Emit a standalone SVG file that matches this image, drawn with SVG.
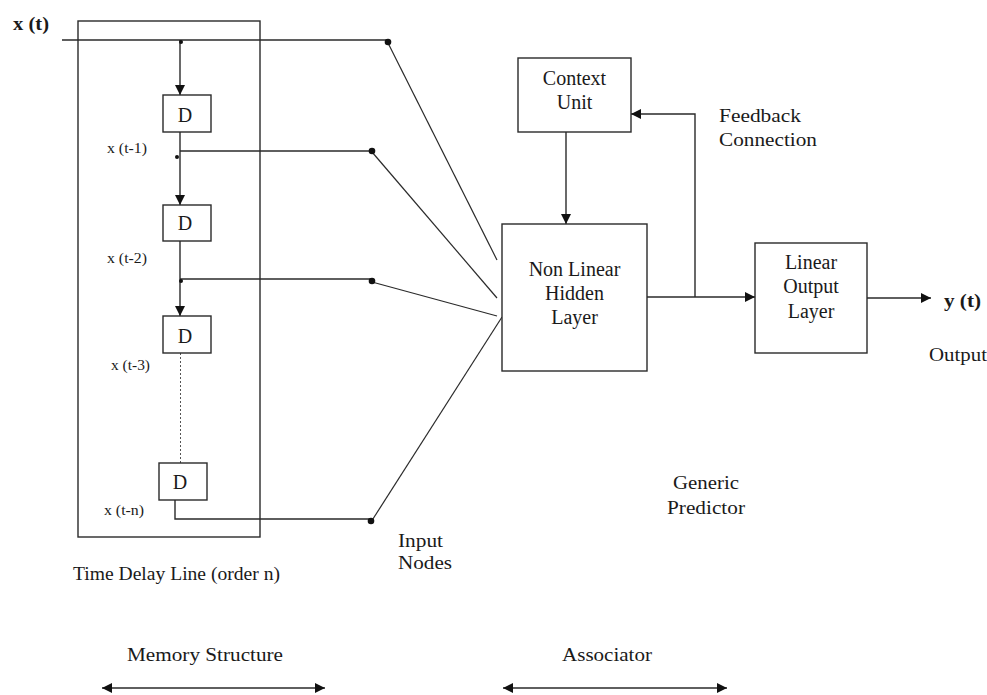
<svg xmlns="http://www.w3.org/2000/svg" width="987" height="695" viewBox="0 0 987 695">
<defs>
<style>
.box{fill:#fff;stroke:#2a2a2a;stroke-width:1.4}
.ln{fill:none;stroke:#2a2a2a;stroke-width:1.4}
.thin{fill:none;stroke:#2a2a2a;stroke-width:1.2}
.dot{fill:#111}
text{font-family:"Liberation Serif","Times New Roman",serif;fill:#1a1a1a}
.lbl{font-size:20px;text-anchor:middle}
.sm{font-size:14px}
.cap{font-size:18px}
.b{font-weight:bold;font-size:18px}
</style>
<marker id="arr" viewBox="0 0 10 10" refX="10" refY="5" markerWidth="10" markerHeight="10" markerUnits="userSpaceOnUse" orient="auto-start-reverse">
<path d="M0,0 L10,5 L0,10 z" fill="#111"/>
</marker>
</defs>
<rect width="987" height="695" fill="#fff"/>

<g id="tdl">
<rect class="box" x="78" y="21" width="182" height="516" fill="none" style="fill:none"/>
</g>

<g id="connectors">
<!-- input line -->
<line class="ln" x1="62" y1="40" x2="388" y2="40"/>
<line class="ln" x1="180" y1="40" x2="180" y2="95" marker-end="url(#arr)"/>
<line class="ln" x1="180" y1="132" x2="180" y2="205" marker-end="url(#arr)"/>
<line class="ln" x1="180" y1="151" x2="372" y2="151"/>
<line class="ln" x1="180" y1="241" x2="180" y2="316" marker-end="url(#arr)"/>
<line class="ln" x1="180" y1="279" x2="372" y2="279"/>
<line x1="180.5" y1="353" x2="180.5" y2="463" stroke="#555" stroke-width="1" stroke-dasharray="2,2"/>
<polyline class="ln" points="175,500 175,519 371,519"/>
<!-- diagonals -->
<line class="thin" x1="388" y1="43" x2="497" y2="260"/>
<line class="thin" x1="372" y1="152" x2="497" y2="298"/>
<line class="thin" x1="372" y1="282" x2="497" y2="316"/>
<line class="thin" x1="371" y1="522" x2="502" y2="317"/>
<!-- right side -->
<line class="ln" x1="566" y1="132" x2="566" y2="224" marker-end="url(#arr)"/>
<line class="ln" x1="647" y1="297" x2="755" y2="297" marker-end="url(#arr)"/>
<polyline class="ln" points="695,297 695,114 631,114" marker-end="url(#arr)"/>
<line class="ln" x1="867" y1="298" x2="931" y2="298" marker-end="url(#arr)"/>
<!-- bottom arrows -->
<line class="ln" x1="102" y1="688" x2="325" y2="688" marker-start="url(#arr)" marker-end="url(#arr)"/>
<line class="ln" x1="503" y1="688" x2="727" y2="688" marker-start="url(#arr)" marker-end="url(#arr)"/>
<!-- dots -->
<circle class="dot" cx="388" cy="42" r="3.3"/>
<circle class="dot" cx="372" cy="151" r="3.3"/>
<circle class="dot" cx="372" cy="281" r="3.3"/>
<circle class="dot" cx="371" cy="521" r="3.3"/>
<circle class="dot" cx="181" cy="42" r="2"/>
<circle class="dot" cx="177" cy="157" r="2"/>
<circle class="dot" cx="181" cy="281" r="2"/>
</g>

<g id="d1"><rect class="box" x="163" y="95" width="48" height="37"/><text class="lbl" x="185" y="122">D</text></g>
<g id="d2"><rect class="box" x="163" y="205" width="48" height="36"/><text class="lbl" x="185" y="230">D</text></g>
<g id="d3"><rect class="box" x="163" y="316" width="48" height="37"/><text class="lbl" x="185" y="343">D</text></g>
<g id="d4"><rect class="box" x="159" y="463" width="48" height="37"/><text class="lbl" x="180" y="489">D</text></g>

<g id="context"><rect class="box" x="518" y="58" width="113" height="74"/>
<text class="lbl" x="574.5" y="85">Context</text><text class="lbl" x="574.5" y="109">Unit</text></g>
<g id="hidden"><rect class="box" x="502" y="224" width="145" height="147"/>
<text class="lbl" x="574.5" y="276">Non Linear</text><text class="lbl" x="574.5" y="300">Hidden</text><text class="lbl" x="574.5" y="324">Layer</text></g>
<g id="linear"><rect class="box" x="755" y="243" width="112" height="110"/>
<text class="lbl" x="811" y="269">Linear</text><text class="lbl" x="811" y="293">Output</text><text class="lbl" x="811" y="318">Layer</text></g>

<g id="labels">
<text class="b" x="13" y="30" textLength="36" lengthAdjust="spacingAndGlyphs">x (t)</text>
<text class="sm" x="107" y="153" textLength="40" lengthAdjust="spacingAndGlyphs">x (t-1)</text>
<text class="sm" x="107" y="263" textLength="40" lengthAdjust="spacingAndGlyphs">x (t-2)</text>
<text class="sm" x="111" y="370" textLength="39" lengthAdjust="spacingAndGlyphs">x (t-3)</text>
<text class="sm" x="104" y="515" textLength="40" lengthAdjust="spacingAndGlyphs">x (t-n)</text>
<text class="cap" x="73" y="580" textLength="207" lengthAdjust="spacingAndGlyphs">Time Delay Line (order n)</text>
<text class="cap" x="398" y="547" textLength="45" lengthAdjust="spacingAndGlyphs">Input</text>
<text class="cap" x="398" y="569" textLength="54" lengthAdjust="spacingAndGlyphs">Nodes</text>
<text class="cap" x="719" y="122" textLength="82" lengthAdjust="spacingAndGlyphs">Feedback</text>
<text class="cap" x="719" y="146" textLength="98" lengthAdjust="spacingAndGlyphs">Connection</text>
<text class="cap" x="673" y="489" textLength="66" lengthAdjust="spacingAndGlyphs">Generic</text>
<text class="cap" x="667" y="514" textLength="78" lengthAdjust="spacingAndGlyphs">Predictor</text>
<text class="b" x="944" y="307" textLength="37" lengthAdjust="spacingAndGlyphs">y (t)</text>
<text class="cap" x="929" y="361" textLength="58" lengthAdjust="spacingAndGlyphs">Output</text>
<text class="cap" x="127" y="661" textLength="156" lengthAdjust="spacingAndGlyphs">Memory Structure</text>
<text class="cap" x="562" y="661" textLength="90" lengthAdjust="spacingAndGlyphs">Associator</text>
</g>
</svg>
